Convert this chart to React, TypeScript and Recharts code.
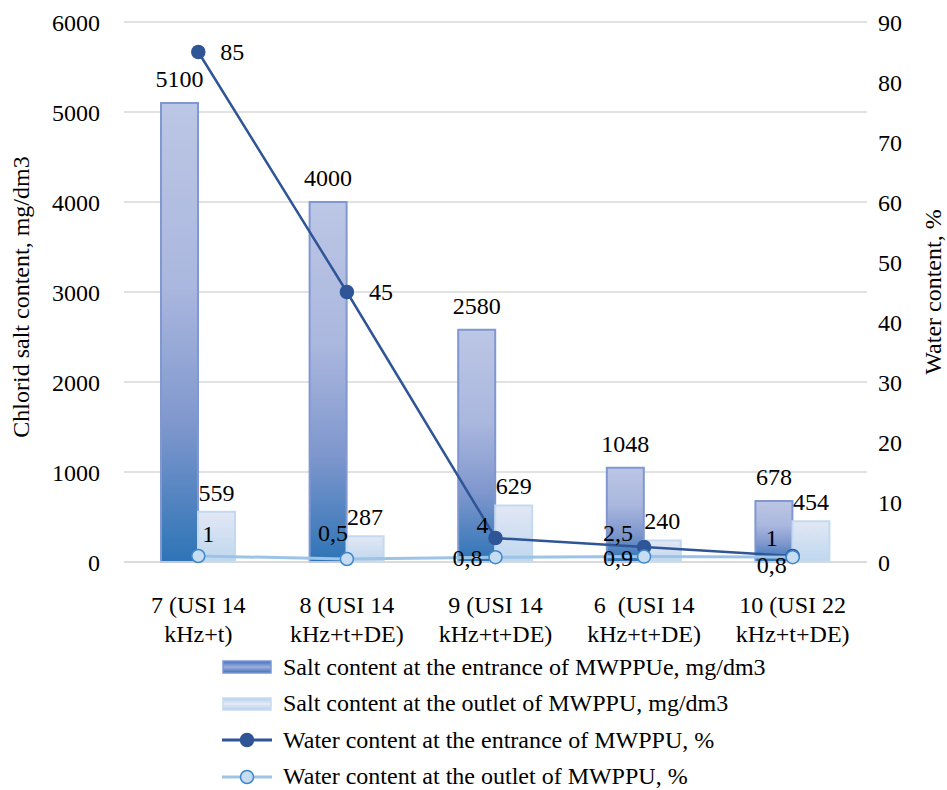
import React from "react";
import { ComposedChart, Bar, Line, XAxis, YAxis, CartesianGrid, Legend, LabelList } from "recharts";

const categories = [
  "7 (USI 14\nkHz+t)",
  "8 (USI 14\nkHz+t+DE)",
  "9 (USI 14\nkHz+t+DE)",
  "6  (USI 14\nkHz+t+DE)",
  "10 (USI 22\nkHz+t+DE)",
];
const saltIn = [5100, 4000, 2580, 1048, 678];
const saltOut = [559, 287, 629, 240, 454];
const waterIn = [85, 45, 4, 2.5, 1];
const waterOut = [1, 0.5, 0.8, 0.9, 0.8];
const leftTicks = [0, 1000, 2000, 3000, 4000, 5000, 6000];
const rightTicks = [0, 10, 20, 30, 40, 50, 60, 70, 80, 90];

const seriesNames = [
  "Salt content at the entrance of MWPPUe, mg/dm3",
  "Salt content at the outlet of MWPPU, mg/dm3",
  "Water content at the entrance of MWPPU, %",
  "Water content at the outlet of MWPPU, %",
];

// label nudges for the line values (dx, dy)
const waterInLabelPos = [[34, 0], [34, 0], [-13, -13], [-26, -14], [-21, -18]];
const waterOutLabelPos = [[10, -22], [-14, -26], [-28, 1], [-26, 1], [-21, 8]];

const data = categories.map((c, i) => ({
  name: c,
  saltIn: saltIn[i],
  saltOut: saltOut[i],
  waterIn: waterIn[i],
  waterOut: waterOut[i],
}));

const FONT = "'Liberation Serif', 'Times New Roman', serif";
const FS = 24;

const fmt = (v: number) => String(v).replace(".", ",");

const XTick = (props: any) => {
  const { x, y, payload } = props;
  const lines = String(payload.value).split("\n");
  return (
    <g>
      {lines.map((l, i) => (
        <text
          key={i}
          x={x}
          y={y + 41 + i * 29}
          textAnchor="middle"
          dominantBaseline="central"
          fontFamily={FONT}
          fontSize={FS}
          fill="#000"
          style={{ whiteSpace: "pre" }}
        >
          {l}
        </text>
      ))}
    </g>
  );
};

const barLabel = (lift: number) => (props: any) => {
  const { x, y, width, value } = props;
  return (
    <text x={x + width / 2} y={y - lift} textAnchor="middle" dominantBaseline="central" fontFamily={FONT} fontSize={FS} fill="#000">
      {value}
    </text>
  );
};

const lineLabel = (pos: number[][]) => (props: any) => {
  const { x, y, value, index } = props;
  const [dx, dy] = pos[index] || [0, -15];
  return (
    <text x={x + dx} y={y + dy} textAnchor="middle" dominantBaseline="central" fontFamily={FONT} fontSize={FS} fill="#000">
      {fmt(value)}
    </text>
  );
};

const LegendBox = () => (
  <div style={{ height: 158, paddingLeft: 222, paddingTop: 17, boxSizing: "border-box", fontFamily: FONT, fontSize: FS, color: "#000" }}>
    {seriesNames.map((n, i) => (
      <div key={n} style={{ height: 36.5, display: "flex", alignItems: "center", whiteSpace: "nowrap" }}>
        <svg width={52} height={20} style={{ marginRight: 9, flex: "none" }}>
          <defs>
            <linearGradient id={"lg" + i} x1="0" y1="0" x2="0" y2="1">
              <stop offset="0%" stopColor={i === 0 ? "#3c6fb8" : "#b5d0ec"} />
              <stop offset="50%" stopColor={i === 0 ? "#9fb0dc" : "#e3eaf6"} />
              <stop offset="100%" stopColor={i === 0 ? "#3c6fb8" : "#b5d0ec"} />
            </linearGradient>
          </defs>
          {i < 2 ? (
            <rect x={1} y={4} width={48} height={12} fill={`url(#lg${i})`} stroke={i === 0 ? "#7f96d2" : "#c6dcf1"} strokeWidth={1.5} />
          ) : (
            <>
              <line x1={0} y1={10} x2={50} y2={10} stroke={i === 2 ? "#2f5597" : "#9dc3e6"} strokeWidth={3} />
              <circle cx={25} cy={10} r={6.5} fill={i === 2 ? "#2f5597" : "#c5dcf1"} stroke={i === 2 ? "#2f5597" : "#3f87cc"} strokeWidth={1.5} />
            </>
          )}
        </svg>
        <span>{n}</span>
      </div>
    ))}
  </div>
);

export default function App() {
  return (
    <div style={{ position: "absolute", left: 0, top: 0, width: 947, height: 790, overflow: "hidden", background: "#fff" }}>
      <ComposedChart width={947} height={790} data={data} margin={{ top: 22, right: 20, left: 44, bottom: 0 }} barGap={0}>
        <defs>
          <linearGradient id="gradIn" x1="0" y1="0" x2="0" y2="1">
            <stop offset="0%" stopColor="#bcc6e5" />
            <stop offset="40%" stopColor="#aab7de" />
            <stop offset="70%" stopColor="#7f97cd" />
            <stop offset="100%" stopColor="#2e74b6" />
          </linearGradient>
          <linearGradient id="gradOut" x1="0" y1="0" x2="0" y2="1">
            <stop offset="0%" stopColor="#e2e7f4" />
            <stop offset="100%" stopColor="#bed7ef" />
          </linearGradient>
        </defs>
        <CartesianGrid yAxisId="left" vertical={false} stroke="#d9d9d9" strokeWidth={1.5} />
        <XAxis
          dataKey="name"
          axisLine={{ stroke: "#d9d9d9", strokeWidth: 1.5 }}
          tickLine={false}
          tickSize={0}
          height={70}
          interval={0}
          tick={<XTick />}
        />
        <YAxis
          yAxisId="left"
          domain={[0, 6000]}
          ticks={leftTicks}
          width={80}
          axisLine={false}
          tickLine={false}
          tickSize={0}
          tickMargin={24}
          tick={{ fontFamily: FONT, fontSize: FS, fill: "#000" }}
          label={{
            content: () => (
              <text x={21} y={297} transform="rotate(-90 21 297)" textAnchor="middle" dominantBaseline="central" fontFamily={FONT} fontSize={FS} fill="#000">
                Chlorid salt content, mg/dm3
              </text>
            ),
          }}
        />
        <YAxis
          yAxisId="right"
          orientation="right"
          domain={[0, 90]}
          ticks={rightTicks}
          width={60}
          axisLine={false}
          tickLine={false}
          tickSize={0}
          tickMargin={11}
          tick={{ fontFamily: FONT, fontSize: FS, fill: "#000" }}
          label={{
            content: () => (
              <text x={933} y={292} transform="rotate(-90 933 292)" textAnchor="middle" dominantBaseline="central" fontFamily={FONT} fontSize={FS} fill="#000">
                Water content, %
              </text>
            ),
          }}
        />
        <Legend verticalAlign="bottom" wrapperStyle={{ left: 0, width: 947 }} content={<LegendBox />} />
        <Bar yAxisId="left" dataKey="saltIn" name={seriesNames[0]} barSize={37} fill="url(#gradIn)" stroke="#8097d2" strokeWidth={2} isAnimationActive={false}>
          <LabelList dataKey="saltIn" content={barLabel(24)} />
        </Bar>
        <Bar yAxisId="left" dataKey="saltOut" name={seriesNames[1]} barSize={37} fill="url(#gradOut)" stroke="#c2d9f0" strokeWidth={2} isAnimationActive={false}>
          <LabelList dataKey="saltOut" content={barLabel(19)} />
        </Bar>
        <Line
          yAxisId="right"
          dataKey="waterIn"
          name={seriesNames[2]}
          stroke="#2f5597"
          strokeWidth={2.5}
          dot={{ r: 6.5, fill: "#2f5597", stroke: "#2f5597", strokeWidth: 1.5 }}
          isAnimationActive={false}
        >
          <LabelList dataKey="waterIn" content={lineLabel(waterInLabelPos)} />
        </Line>
        <Line
          yAxisId="right"
          dataKey="waterOut"
          name={seriesNames[3]}
          stroke="#9dc3e6"
          strokeWidth={3}
          dot={{ r: 6.5, fill: "#c5dcf1", stroke: "#3f87cc", strokeWidth: 1.5 }}
          isAnimationActive={false}
        >
          <LabelList dataKey="waterOut" content={lineLabel(waterOutLabelPos)} />
        </Line>
      </ComposedChart>
    </div>
  );
}
